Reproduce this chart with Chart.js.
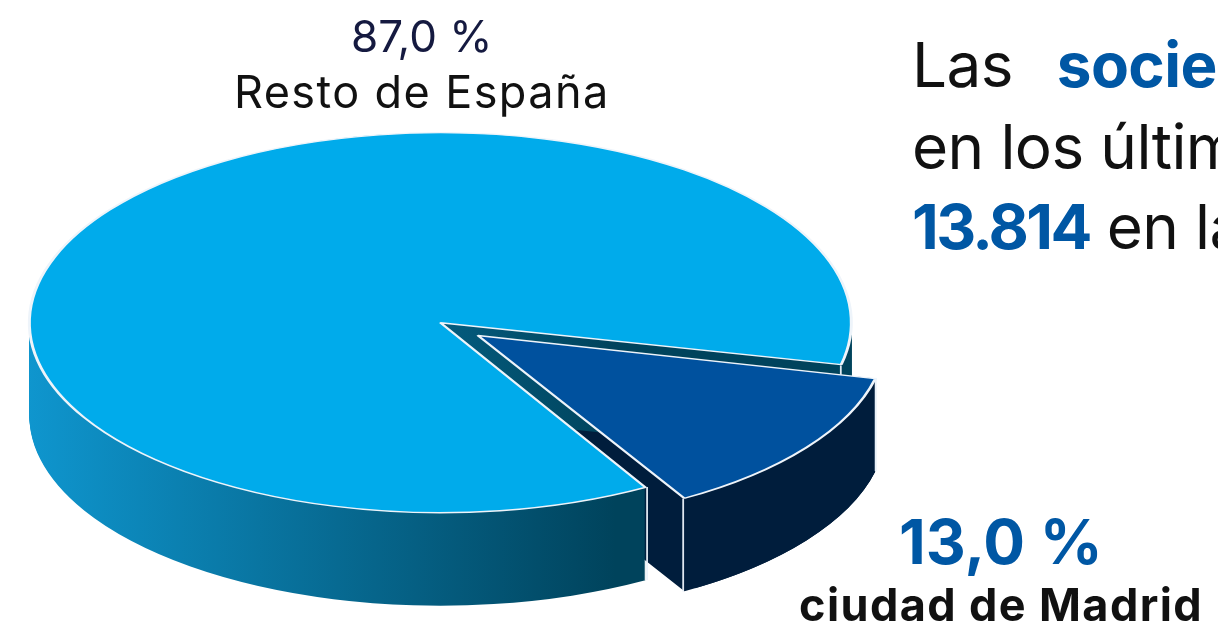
<!DOCTYPE html>
<html>
<head>
<meta charset="utf-8">
<script src="https://cdn.jsdelivr.net/npm/chart.js@4.4.1/dist/chart.umd.min.js"></script>
<style>
html,body{margin:0;padding:0;width:1218px;height:628px;overflow:hidden;background:#ffffff;}
#c{position:absolute;left:0;top:0;}
.t{position:absolute;white-space:nowrap;line-height:1;font-family:Inter,"Noto Sans",sans-serif;}
.b{font-weight:700;color:#0057a4;}
.n{letter-spacing:-2.6px;}
</style>
</head>
<body>
<canvas id="c" width="1218" height="628"></canvas>
<div id="texts"></div>
<script>
// ---- data ----
const categories = ['ciudad de Madrid', 'Resto de España'];
const shares = [13.0, 87.0];
const topColors = ['#00519e', '#00abeb'];
const sideStart = ['#001d3c', '#0f97d0'];
const sideEnd = ['#001d3c', '#00435c'];
const sliceOffsets = [138, 48];
const headlineLines = [
  [['Las', false], ['sociedades creadas', true]],
  [['en los últimos doce meses', false]],
  [['13.814', true], [' en la ciudad de Madrid', false]]
];

// ---- 3D look ----
const K = 0.4623;     // vertical squash of the pie top
const DEPTH = 93;     // wall height in screen px
const PX = 450, PY = 326; // pie centre on screen

function fmt(v){ return v.toFixed(1).replace('.', ',') + ' %'; }

function corners(el) {
  const off = (el.options.offset || 0) / 4;
  const circ = el.endAngle - el.startAngle;
  const fix = 1 - Math.sin(Math.min(Math.PI, circ));
  const mid = (el.startAngle + el.endAngle) / 2;
  const ox = el.x + Math.cos(mid) * off, oy = el.y + Math.sin(mid) * off;
  const r = el.outerRadius + off * fix;
  return [el.startAngle, el.endAngle].map(a => ({
    x: ox + r * Math.cos(a), y: oy + r * Math.sin(a), front: Math.sin(a) > 0.05
  }));
}
function drawSides(ctx, el, i, cx) {
  const saved = el.options;
  const g = ctx.createLinearGradient(28 - PX + cx, 0, 625 - PX + cx, 0);
  g.addColorStop(0, sideStart[i]); g.addColorStop(1, sideEnd[i]);
  el.options = Object.assign({}, saved, {backgroundColor: g, borderWidth: 0, borderColor: 'rgba(0,0,0,0)'});
  for (let d = DEPTH; d >= 1; d -= 1) {
    ctx.save(); ctx.translate(0, d / K); el.draw(ctx); ctx.restore();
  }
  el.options = saved;
  corners(el).forEach(p => {
    if (p.front) {
      ctx.save();
      ctx.strokeStyle = 'rgba(235,242,250,0.95)';
      ctx.lineWidth = 1.8;
      ctx.beginPath(); ctx.moveTo(p.x, p.y); ctx.lineTo(p.x, p.y + DEPTH / K); ctx.stroke();
      ctx.restore();
    }
  });
}

const pie3d = {
  id: 'pie3d',
  beforeDatasetsDraw(chart) {
    const ctx = chart.ctx;
    const ca = chart.chartArea;
    const cx = (ca.left + ca.right) / 2, cy = (ca.top + ca.bottom) / 2;
    const meta = chart.getDatasetMeta(0);
    const small = meta.data[0], big = meta.data[1];
    ctx.save();
    ctx.translate(PX, PY); ctx.scale(1, K); ctx.translate(-cx, -cy);
    // back-to-front: small slice inner faces, then big walls, then small outer wall on the right
    drawSides(ctx, small, 0, cx);
    drawSides(ctx, big, 1, cx);
    const cut = corners(small)[1].x + 12;
    ctx.save();
    ctx.beginPath(); ctx.rect(cut, -5000, 5000, 10000); ctx.clip();
    drawSides(ctx, small, 0, cx);
    ctx.restore();
  },
  afterDatasetsDraw(chart) { chart.ctx.restore(); }
};

new Chart(document.getElementById('c'), {
  type: 'pie',
  data: {
    labels: categories,
    datasets: [{
      data: shares,
      backgroundColor: topColors,
      borderColor: '#eef4fa',
      borderWidth: 3,
      offset: sliceOffsets,
      rotation: 103,
      radius: 399,
      clip: false
    }]
  },
  options: {
    responsive: false,
    animation: false,
    events: [],
    rotation: 103,
    radius: 399,
    layout: {padding: 0},
    plugins: {legend: {display: false}, tooltip: {enabled: false}}
  },
  plugins: [pie3d]
});

// ---- texts ----
const box = document.getElementById('texts');
function addText(html, x, baseline, size, weight, color, align, ls) {
  const d = document.createElement('div');
  d.className = 't';
  d.innerHTML = html;
  d.style.fontSize = size + 'px';
  d.style.fontWeight = weight;
  d.style.color = color;
  if (ls) d.style.letterSpacing = ls + 'px';
  d.style.top = (baseline - 0.863 * size) + 'px';
  box.appendChild(d);
  if (align === 'center') d.style.left = (x - d.offsetWidth / 2) + 'px';
  else d.style.left = x + 'px';
}
addText(fmt(shares[1]), 422, 52, 44, 400, '#151a40', 'center');
addText(categories[1], 422, 108, 45, 400, '#111111', 'center', 1.4);
addText(fmt(shares[0]), 1001, 565, 62, 700, '#0057a4', 'center');
addText(categories[0], 1001, 621, 45, 700, '#111111', 'center', 1.4);
const baselines = [88, 170, 250];
headlineLines.forEach((line, i) => {
  const html = line.map(([s, b]) => {
    if (b) return '<span class="b' + (/^[0-9.]+$/.test(s) ? ' n' : '') + '">' + s + '</span>';
    return s;
  }).join(i === 0 ? '<span style="display:inline-block;width:44px"></span>' : '');
  addText(html, 912, baselines[i], 62, 400, '#111111', 'left', -0.6);
});
</script>
</body>
</html>
